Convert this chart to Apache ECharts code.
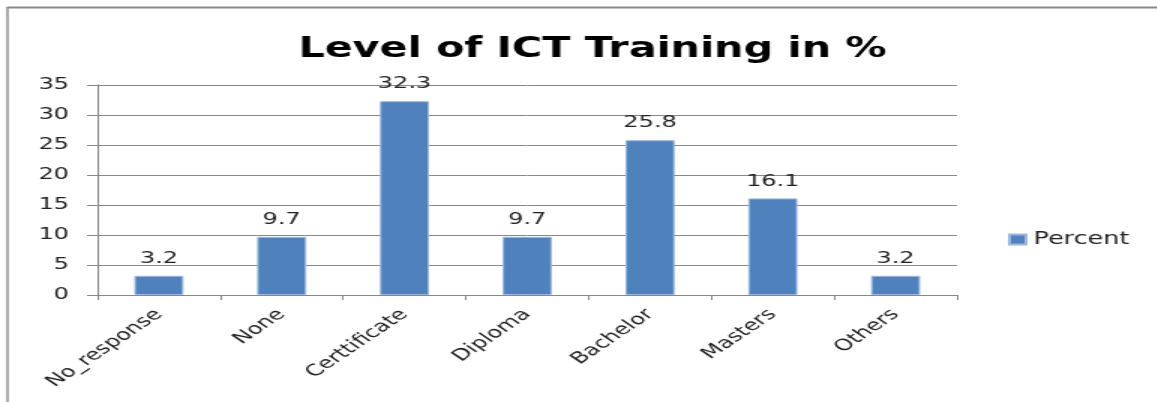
<!DOCTYPE html>
<html>
<head>
<meta charset="utf-8">
<script src="https://cdn.jsdelivr.net/npm/echarts@6/dist/echarts.min.js"></script>
<style>
html, body { margin: 0; padding: 0; background: #fff; overflow: hidden; }
/* the source picture is stretched sideways, so draw narrow and widen it */
#chart { width: 772px; height: 402px; transform: scaleX(1.5); transform-origin: 0 0; }
</style>
</head>
<body>
<div id="chart"></div>
<script>
var categories = ['No_response', 'None', 'Certtificate', 'Diploma', 'Bachelor', 'Masters', 'Others'];
var percent = [3.2, 9.7, 32.3, 9.7, 25.8, 16.1, 3.2];
var yTicks = { min: 0, max: 35, interval: 5 };

var font = 'DejaVu Sans, Verdana, sans-serif';
var chart = echarts.init(document.getElementById('chart'));

var option = {
    animation: false,
    backgroundColor: '#fff',
    title: {
        text: 'Level of ICT Training in %',
        left: 390,
        textAlign: 'center',
        top: 31,
        textStyle: { fontFamily: font, fontSize: 27.5, fontWeight: 'bold', color: '#000' }
    },
    legend: {
        data: ['Percent'],
        left: 667,
        top: 226,
        itemWidth: 11,
        itemHeight: 10,
        itemGap: 6,
        icon: 'rect',
        textStyle: { fontFamily: font, fontSize: 17, color: '#222' }
    },
    grid: { left: 65, right: 134, top: 85, bottom: 107, containLabel: false },
    xAxis: {
        type: 'category',
        data: categories,
        axisLine: { lineStyle: { color: '#888', width: 1 } },
        axisTick: { show: true, length: 5, lineStyle: { color: '#888' } },
        axisLabel: { rotate: 45, margin: 17, interval: 0, fontFamily: font, fontSize: 16, color: '#222' }
    },
    yAxis: {
        type: 'value',
        min: yTicks.min,
        max: yTicks.max,
        interval: yTicks.interval,
        axisLine: { show: true, lineStyle: { color: '#888' } },
        axisTick: { show: true, length: 7, lineStyle: { color: '#888' } },
        axisLabel: { margin: 19, fontFamily: font, fontSize: 16, color: '#222' },
        splitLine: { lineStyle: { color: '#888', width: 1 } }
    },
    series: [{
        name: 'Percent',
        type: 'bar',
        data: percent,
        barWidth: '40%',
        itemStyle: { color: '#4f81bd', borderColor: '#9ab8dd', borderWidth: 1 },
        label: {
            show: true,
            position: 'top',
            distance: 9,
            fontFamily: font,
            fontSize: 16,
            color: '#222'
        }
    }],
    graphic: [
        { type: 'line', shape: { x1: 4.7, y1: 7.5, x2: 772, y2: 7.5 }, style: { stroke: '#888', lineWidth: 2 } },
        { type: 'line', shape: { x1: 5, y1: 7, x2: 5, y2: 402 }, style: { stroke: '#888', lineWidth: 1.4 } }
    ]
};

chart.setOption(option);
</script>
</body>
</html>
